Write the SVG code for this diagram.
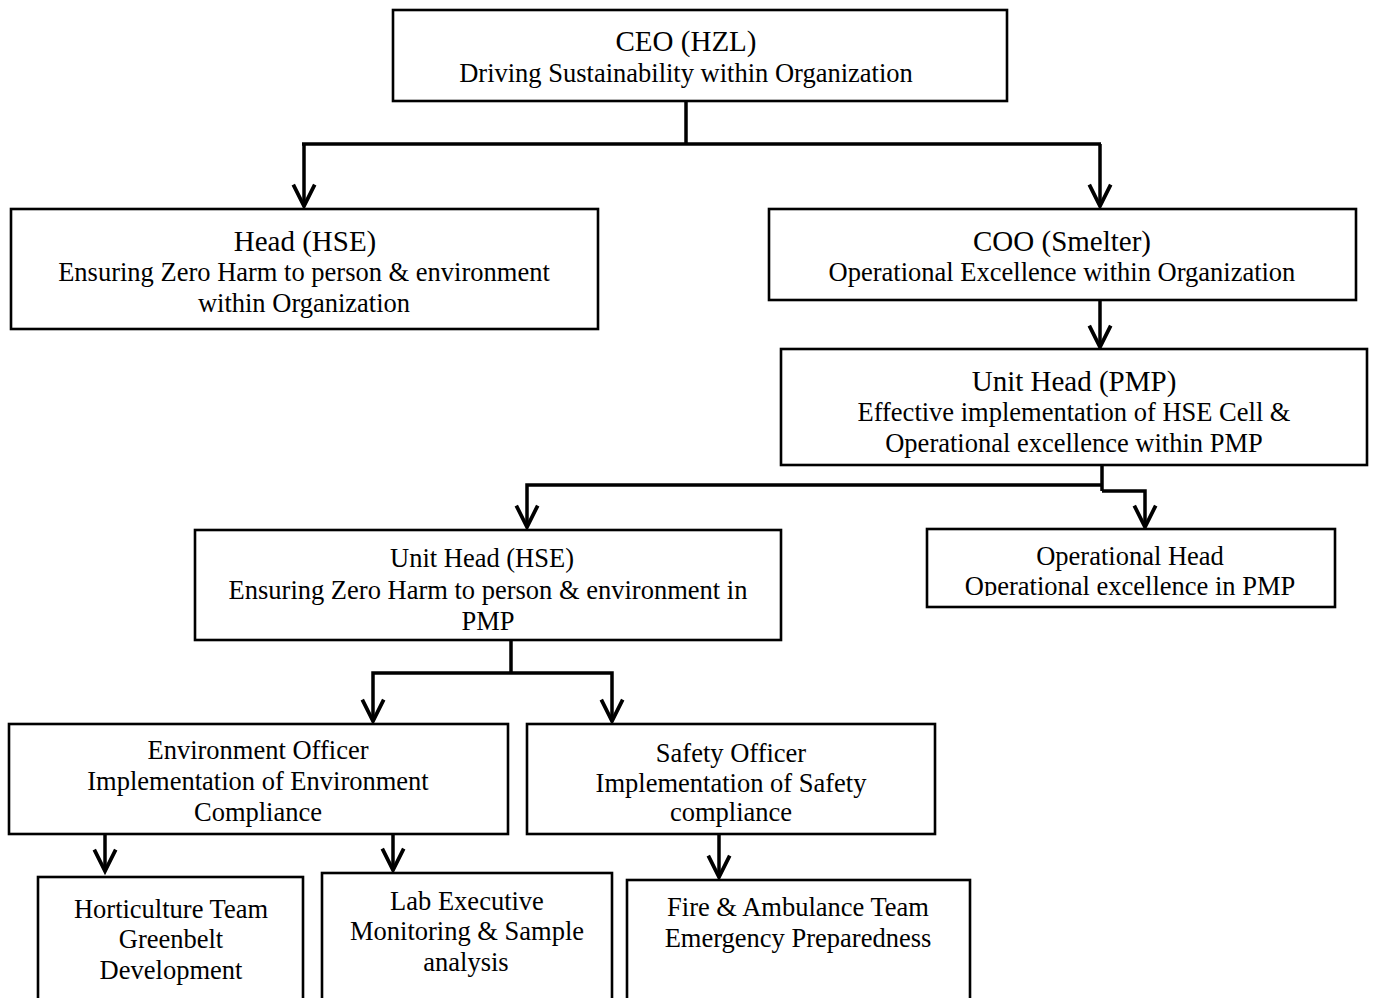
<svg xmlns="http://www.w3.org/2000/svg" width="1373" height="998" viewBox="0 0 1373 998">
<style>
.box{fill:#fff;stroke:#000;stroke-width:2.6}
.t{font-family:"Liberation Serif","Times New Roman",serif;font-size:26.5px;fill:#000;text-anchor:middle}
.h{font-size:29px}
.c{fill:none;stroke:#000;stroke-width:3.5;stroke-linejoin:miter}
.a{marker-end:url(#arr)}
</style>
<defs>
<marker id="arr" markerUnits="userSpaceOnUse" markerWidth="30" markerHeight="30" viewBox="-24 -14 28 28" refX="0" refY="0" orient="auto" overflow="visible">
<path d="M-20,-10 L0,0 L-20,10" fill="none" stroke="#000" stroke-width="3.5"/>
</marker>
<clipPath id="opclip"><rect x="927" y="529" width="408" height="67"/></clipPath>
</defs>
<rect width="1373" height="998" fill="#fff"/>
<g id="connectors">
<path class="c" d="M686,101 V144"/>
<path class="c" d="M302,144 H1101"/>
<path class="c a" d="M304,144 V206"/>
<path class="c a" d="M1100,144 V206"/>
<path class="c a" d="M1100,300 V347"/>
<path class="c" d="M1102,465 V491"/>
<path class="c a" d="M1102,485 H527 V527"/>
<path class="c a" d="M1102,491 H1145 V527"/>
<path class="c" d="M511,640 V673"/>
<path class="c a" d="M511,673 H373 V721"/>
<path class="c a" d="M511,673 H612 V721"/>
<path class="c a" d="M105,834 V871"/>
<path class="c a" d="M393,834 V870"/>
<path class="c a" d="M719,834 V877"/>
</g>
<g id="ceo">
<rect class="box" x="393" y="10" width="614" height="91"/>
<text class="t h" x="686" y="51">CEO (HZL)</text>
<text class="t" x="686" y="82">Driving Sustainability within Organization</text>
</g>
<g id="head-hse">
<rect class="box" x="11" y="209" width="587" height="120"/>
<text class="t h" x="305" y="251">Head (HSE)</text>
<text class="t" x="304" y="281">Ensuring Zero Harm to person &amp; environment</text>
<text class="t" x="304" y="312">within Organization</text>
</g>
<g id="coo">
<rect class="box" x="769" y="209" width="587" height="91"/>
<text class="t h" x="1062" y="251">COO (Smelter)</text>
<text class="t" x="1062" y="281">Operational Excellence within Organization</text>
</g>
<g id="unit-head-pmp">
<rect class="box" x="781" y="349" width="586" height="116"/>
<text class="t h" x="1074" y="391">Unit Head (PMP)</text>
<text class="t" x="1074" y="421">Effective implementation of HSE Cell &amp;</text>
<text class="t" x="1074" y="452">Operational excellence within PMP</text>
</g>
<g id="operational-head">
<rect class="box" x="927" y="529" width="408" height="78"/>
<g clip-path="url(#opclip)">
<text class="t" x="1130" y="565">Operational Head</text>
<text class="t" x="1130" y="595">Operational excellence in PMP</text>
</g>
</g>
<g id="unit-head-hse">
<rect class="box" x="195" y="530" width="586" height="110"/>
<text class="t" x="482" y="567">Unit Head (HSE)</text>
<text class="t" x="488" y="599">Ensuring Zero Harm to person &amp; environment in</text>
<text class="t" x="488" y="630">PMP</text>
</g>
<g id="environment-officer">
<rect class="box" x="9" y="724" width="499" height="110"/>
<text class="t" x="258" y="759">Environment Officer</text>
<text class="t" x="258" y="790">Implementation of Environment</text>
<text class="t" x="258" y="821">Compliance</text>
</g>
<g id="safety-officer">
<rect class="box" x="527" y="724" width="408" height="110"/>
<text class="t" x="731" y="762">Safety Officer</text>
<text class="t" x="731" y="792">Implementation of Safety</text>
<text class="t" x="731" y="821">compliance</text>
</g>
<g id="horticulture-team">
<rect class="box" x="38" y="877" width="265" height="140"/>
<text class="t" x="171" y="918">Horticulture Team</text>
<text class="t" x="171" y="948">Greenbelt</text>
<text class="t" x="171" y="979">Development</text>
</g>
<g id="lab-executive">
<rect class="box" x="322" y="873" width="290" height="140"/>
<text class="t" x="467" y="910">Lab Executive</text>
<text class="t" x="467" y="940">Monitoring &amp; Sample</text>
<text class="t" x="466" y="971">analysis</text>
</g>
<g id="fire-ambulance-team">
<rect class="box" x="627" y="880" width="343" height="140"/>
<text class="t" x="798" y="916">Fire &amp; Ambulance Team</text>
<text class="t" x="798" y="947">Emergency Preparedness</text>
</g>
</svg>
